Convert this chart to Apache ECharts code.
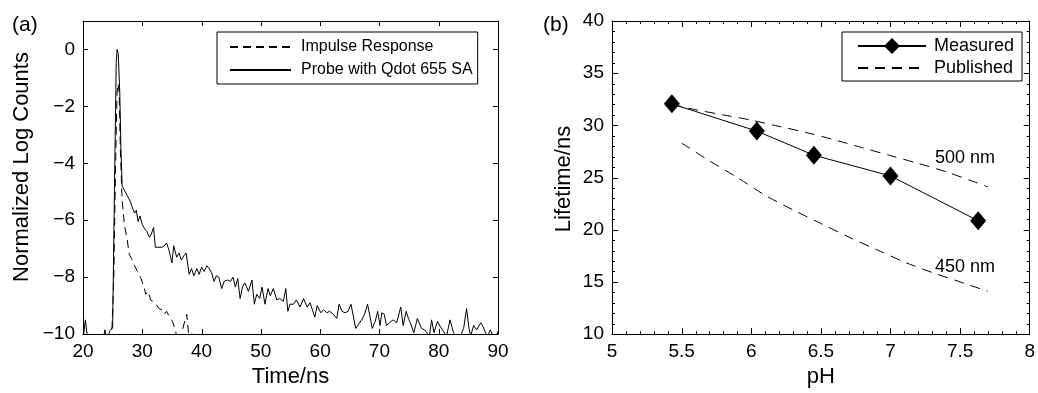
<!DOCTYPE html>
<html>
<head>
<meta charset="utf-8">
<script src="https://cdn.jsdelivr.net/npm/echarts@6/dist/echarts.min.js"></script>
<style>
html,body{margin:0;padding:0;background:#fff;}
#c{width:1038px;height:393px;}
</style>
</head>
<body>
<div id="c"></div>
<script>
// ---- Panel (a): time-resolved decay ----
const probeTime = [
 20.0,20.4,20.8,21.5,22.5,23.4,23.7,24.0,24.5,25.0,
 25.3,25.6,25.75,25.95,26.2,26.4,26.6,27.0,27.5,28.0,
 28.4,28.7,29.0,29.3,29.6,30.0,30.4,30.8,31.2,31.5,
 31.9,32.2,32.6,32.9,33.3,33.7,34.1,34.5,35.0,35.3,
 35.8,36.2,36.6,37.0,37.4,37.9,38.3,38.7,39.2,39.6,
 40.0,40.4,40.9,41.3,41.7,42.1,42.5,42.9,43.4,43.8,
 44.4,44.9,45.3,45.7,46.1,46.5,46.9,47.3,47.9,48.5,
 48.9,49.3,49.8,50.2,50.7,51.2,51.6,52.1,52.7,53.2,
 53.8,54.2,54.55,54.9,55.5,56.0,56.6,57.2,57.8,58.3,
 58.7,59.1,59.5,60.1,60.6,61.1,61.6,62.2,62.8,63.2,
 63.7,64.2,64.7,65.2,66.0,66.5,67.0,67.5,68.0,68.8,
 69.3,69.7,70.1,70.4,70.8,71.2,71.7,72.3,72.9,73.6,
 74.0,74.5,74.9,75.2,75.8,76.4,77.1,77.6,78.0,78.4,
 78.8,79.2,79.8,80.3,80.8,81.3,81.9,82.5,83.0,83.6,
 84.2,84.7,85.1,85.4,85.9,86.4,87.1,87.5,87.8,88.2,
 88.7,89.2,89.6,90.0
];
const probeLog = [
 -10.2,-9.5,-10.2,-10.3,-10.3,-10.2,-9.85,-10.2,-9.9,-9.75,
 -5.0,-0.5,0,-0.15,-1.5,-3.5,-4.8,-4.95,-5.15,-5.35,
 -5.6,-5.75,-5.65,-6.05,-5.85,-6.15,-6.3,-6.4,-6.6,-6.5,
 -6.25,-6.95,-6.95,-6.9,-6.95,-6.9,-6.8,-7.05,-7.5,-6.9,
 -7.3,-7.15,-7.4,-7.25,-7.15,-7.9,-7.7,-7.95,-7.7,-7.9,
 -7.65,-7.8,-7.6,-7.7,-7.85,-8.15,-7.95,-8.0,-8.4,-8.15,
 -8.1,-8.15,-8.0,-8.35,-8.05,-8.75,-8.35,-8.2,-8.5,-8.1,
 -8.95,-8.6,-8.75,-8.35,-8.95,-8.4,-8.65,-8.4,-8.8,-8.75,
 -8.85,-8.4,-9.2,-8.95,-8.95,-8.8,-9.05,-8.75,-9.05,-8.9,
 -9.15,-9.4,-9.0,-9.25,-9.15,-9.25,-9.2,-9.3,-9.45,-8.95,
 -9.2,-9.25,-9.2,-8.95,-9.8,-9.65,-9.5,-9.3,-8.95,-9.8,
 -9.55,-9.2,-9.7,-9.25,-9.3,-9.7,-9.6,-9.5,-9.6,-9.05,
 -9.7,-9.2,-9.45,-9.6,-9.95,-9.45,-9.8,-9.85,-9.95,-10.1,
 -9.5,-9.95,-9.55,-9.75,-9.9,-10.1,-9.5,-9.95,-10.1,-10.1,
 -9.8,-9.1,-9.8,-10.05,-9.7,-9.85,-9.6,-9.75,-9.9,-10.1,
 -9.85,-10.1,-10.1,-9.9
];
const impulseTime = [
 24.8,25.2,25.5,25.75,25.9,26.1,26.3,26.6,27.0,27.4,
 27.8,28.2,28.7,29.2,29.7,30.2,30.6,31.0,31.4,31.8,
 32.3,32.8,33.3,33.7,34.1,34.6,35.1,35.6,36.0,36.4,
 36.8,37.2,37.5,37.9,38.3,38.6
];
const impulseLog = [
 -10.3,-8.0,-4.0,-1.5,-1.2,-1.5,-3.5,-5.3,-6.2,-6.6,
 -7.2,-7.35,-7.6,-7.8,-8.0,-8.3,-8.6,-8.5,-8.8,-8.85,
 -8.95,-9.1,-9.15,-9.3,-9.2,-9.4,-9.55,-9.9,-10.2,-10.3,
 -9.85,-9.5,-9.3,-10.2,-9.9,-10.3
];
const timeTicks = [20, 30, 40, 50, 60, 70, 80, 90];
const logTicks = [-10, -8, -6, -4, -2, 0];

// ---- Panel (b): lifetime vs pH ----
const measuredPH = [5.43, 6.04, 6.45, 7.0, 7.63];
const measuredLife = [32.06, 29.45, 27.14, 25.16, 20.86];
const pub500PH = [5.43, 5.6, 5.8, 6.0, 6.2, 6.4, 6.6, 6.8, 7.0, 7.2, 7.4, 7.6, 7.7];
const pub500Life = [32.0, 31.5, 31.0, 30.5, 29.9, 29.3, 28.6, 27.85, 27.1, 26.35, 25.55, 24.6, 24.1];
const pub450PH = [5.5, 5.7, 5.9, 6.1, 6.3, 6.5, 6.7, 6.9, 7.1, 7.3, 7.5, 7.7];
const pub450Life = [28.3, 26.6, 25.0, 23.3, 21.9, 20.6, 19.3, 18.1, 16.9, 15.9, 15.0, 14.1];
const curveLabels = ['500 nm', '450 nm'];
const phTicks = [5, 5.5, 6, 6.5, 7, 7.5, 8];
const lifeTicks = [10, 15, 20, 25, 30, 35, 40];

const FONT = "'Liberation Sans', Arial, Helvetica, sans-serif";
const zip = (a, b) => a.map((v, i) => [v, b[i]]);

function boxAxes(gridIndex, xmin, xmax, xint, ymin, ymax, yint) {
  const fmt = (isX) => (v) => {
    if (!isX && v > ymax - yint && v % yint !== 0) return '';
    return String(v).replace('-', '\u2212');
  };
  const mk = (pos, isX, showLabel) => ({
    type: 'value', gridIndex, position: pos,
    min: isX ? xmin : ymin, max: isX ? xmax : ymax, interval: isX ? xint : yint,
    axisLine: { show: true, onZero: false, lineStyle: { color: '#000', width: 1 } },
    axisTick: { show: false },
    minorTick: { show: false },
    splitLine: { show: false },
    axisLabel: showLabel
      ? { show: true, color: '#000', fontSize: 19, fontFamily: FONT, margin: 8, formatter: fmt(isX) }
      : { show: false }
  });
  return {
    xs: [mk('bottom', true, true), mk('top', true, false)],
    ys: [mk('left', false, true), mk('right', false, false)]
  };
}

const a = boxAxes(0, 20, 90, 10, -10, 1, 2);
const b = boxAxes(1, 5, 8, 0.5, 10, 40, 5);

const titleStyle = { fontSize: 22, fontFamily: FONT, color: '#000' };
const noSym = { opacity: 0 };

const baseGraphics = [
  { type: 'text', left: 12, top: 15, style: { text: '(a)', font: '21px ' + FONT, fill: '#000' } },
  { type: 'text', left: 543, top: 15, style: { text: '(b)', font: '21px ' + FONT, fill: '#000' } },
  { type: 'text', x: 22, y: 167, rotation: Math.PI / 2,
    style: { text: 'Normalized Log Counts', font: '22px ' + FONT, fill: '#000', align: 'center', verticalAlign: 'middle' } },
  { type: 'text', x: 564, y: 179, rotation: Math.PI / 2,
    style: { text: 'Lifetime/ns', font: '22px ' + FONT, fill: '#000', align: 'center', verticalAlign: 'middle' } },
  { type: 'text', x: 935, y: 158, style: { text: curveLabels[0], font: '18px ' + FONT, fill: '#000', verticalAlign: 'middle' } },
  { type: 'text', x: 935, y: 267, style: { text: curveLabels[1], font: '18px ' + FONT, fill: '#000', verticalAlign: 'middle' } }
];

const chart = echarts.init(document.getElementById('c'));
chart.setOption({
  backgroundColor: '#fff',
  animation: false,
  grid: [
    { left: 83, top: 21, width: 415, height: 317 },
    { left: 612, top: 21, width: 420, height: 318 }
  ],
  xAxis: [
    Object.assign(a.xs[0], { name: 'Time/ns', nameLocation: 'middle', nameGap: 31, nameTextStyle: titleStyle }),
    a.xs[1],
    Object.assign(b.xs[0], { name: 'pH', nameLocation: 'middle', nameGap: 30, nameTextStyle: titleStyle }),
    b.xs[1]
  ],
  yAxis: [a.ys[0], a.ys[1], b.ys[0], b.ys[1]],
  legend: [
    {
      orient: 'vertical', left: 217, top: 32, selectedMode: false,
      padding: [7, 5, 6, 12], itemWidth: 61, itemHeight: 14, itemGap: 7,
      borderColor: '#000', borderWidth: 1, borderRadius: 0, backgroundColor: '#fff',
      textStyle: { fontSize: 16, fontFamily: FONT, color: '#000', padding: [0, 0, 0, 5] },
      data: [
        { name: 'Impulse Response', itemStyle: noSym },
        { name: 'Probe with Qdot 655 SA', itemStyle: noSym }
      ]
    },
    {
      orient: 'vertical', left: 842, top: 32, selectedMode: false,
      padding: [5, 8, 4, 15], itemWidth: 68, itemHeight: 20, itemGap: 4,
      borderColor: '#000', borderWidth: 1, borderRadius: 0, backgroundColor: '#fff',
      textStyle: { fontSize: 18, fontFamily: FONT, color: '#000', padding: [0, 0, 0, 3] },
      data: [
        { name: 'Measured' },
        { name: 'Published', itemStyle: noSym }
      ]
    }
  ],
  graphic: baseGraphics,
  series: [
    { name: 'Impulse Response', type: 'line', xAxisIndex: 0, yAxisIndex: 0,
      data: zip(impulseTime, impulseLog), symbol: 'none',
      lineStyle: { color: '#000', width: 1, type: [8, 5] }, itemStyle: { color: '#000' } },
    { name: 'Probe with Qdot 655 SA', type: 'line', xAxisIndex: 0, yAxisIndex: 0,
      data: zip(probeTime, probeLog), symbol: 'none',
      lineStyle: { color: '#000', width: 1 }, itemStyle: { color: '#000' } },
    { name: 'Measured', type: 'line', xAxisIndex: 2, yAxisIndex: 2,
      data: zip(measuredPH, measuredLife), symbol: 'diamond', symbolSize: [16, 19], z: 5,
      lineStyle: { color: '#000', width: 1 }, itemStyle: { color: '#000' } },
    { name: 'Published', type: 'line', xAxisIndex: 2, yAxisIndex: 2,
      data: zip(pub500PH, pub500Life), symbol: 'none', smooth: 0.3,
      lineStyle: { color: '#000', width: 1, type: [10, 7] }, itemStyle: { color: '#000' } },
    { name: 'Published', type: 'line', xAxisIndex: 2, yAxisIndex: 2,
      data: zip(pub450PH, pub450Life), symbol: 'none', smooth: 0.3,
      lineStyle: { color: '#000', width: 1, type: [10, 7] }, itemStyle: { color: '#000' } }
  ]
});

// ---- Box ticks (inside, all four sides), positioned through the chart's own scales ----
function minorOf(ticks) {
  const out = [];
  for (let i = 0; i < ticks.length - 1; i++) {
    const step = (ticks[i + 1] - ticks[i]) / 5;
    for (let k = 1; k < 5; k++) out.push(ticks[i] + k * step);
  }
  return out;
}
function boxTicks(gridIndex, xt, yt, xr, yr, len, xMinor, yMinor, mlen) {
  const toPx = p => chart.convertToPixel({ gridIndex }, p);
  const left = toPx([xr[0], yr[0]])[0], right = toPx([xr[1], yr[0]])[0];
  const bottom = toPx([xr[0], yr[0]])[1], top = toPx([xr[0], yr[1]])[1];
  const els = [];
  const st = { stroke: '#000', lineWidth: 1 };
  const addX = (v, l) => {
    const x = Math.round(toPx([v, yr[0]])[0]) + 0.5;
    if (x <= left + 1 || x >= right - 1) return;
    els.push({ type: 'line', silent: true, z: 50, shape: { x1: x, y1: bottom, x2: x, y2: bottom - l }, style: st });
    els.push({ type: 'line', silent: true, z: 50, shape: { x1: x, y1: top, x2: x, y2: top + l }, style: st });
  };
  const addY = (v, l) => {
    const y = Math.round(toPx([xr[0], v])[1]) + 0.5;
    if (y <= top + 1 || y >= bottom - 1) return;
    els.push({ type: 'line', silent: true, z: 50, shape: { x1: left, y1: y, x2: left + l, y2: y }, style: st });
    els.push({ type: 'line', silent: true, z: 50, shape: { x1: right, y1: y, x2: right - l, y2: y }, style: st });
  };
  xt.forEach(v => addX(v, len));
  yt.forEach(v => addY(v, len));
  (xMinor || []).forEach(v => addX(v, mlen));
  (yMinor || []).forEach(v => addY(v, mlen));
  return els;
}
const tickEls = []
  .concat(boxTicks(0, timeTicks, logTicks, [20, 90], [-10, 1], 5))
  .concat(boxTicks(1, phTicks, lifeTicks, [5, 8], [10, 40], 6, minorOf(phTicks), minorOf(lifeTicks), 3));

chart.setOption({ graphic: baseGraphics.concat(tickEls) });
</script>
</body>
</html>
